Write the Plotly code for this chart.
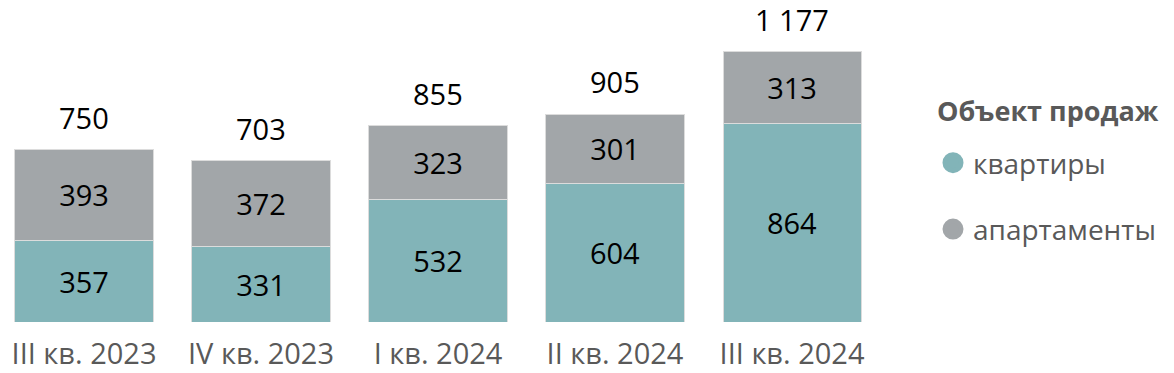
import plotly.graph_objects as go

categories = ["III кв. 2023", "IV кв. 2023", "I кв. 2024", "II кв. 2024", "III кв. 2024"]
flats = [357, 331, 532, 604, 864]
apartments = [393, 372, 323, 301, 313]
totals = [f + a for f, a in zip(flats, apartments)]
total_labels = [f"{t:,}".replace(",", " ") for t in totals]

TEAL = "#82B4B8"
GRAY = "#A2A6A9"
TXT = "#595959"
FONT = "Open Sans"
FS = 29
LFS = 28

x = list(range(len(categories)))
fig = go.Figure()
fig.add_trace(go.Bar(x=x, y=flats, marker=dict(color=TEAL, line=dict(color="#dcdcdc", width=1)),
                     text=[str(v) for v in flats], textposition="inside", insidetextanchor="middle",
                     textangle=0, textfont=dict(color="black", size=FS, family=FONT),
                     showlegend=False, width=0.78))
fig.add_trace(go.Bar(x=x, y=apartments, marker=dict(color=GRAY, line=dict(color="#dcdcdc", width=1)),
                     text=[str(v) for v in apartments], textposition="inside", insidetextanchor="middle",
                     textangle=0, textfont=dict(color="black", size=FS, family=FONT),
                     showlegend=False, width=0.78))

# legend entries
for name, col in [("квартиры", TEAL), ("апартаменты", GRAY)]:
    fig.add_trace(go.Scatter(x=[None], y=[None], mode="markers", name=name, legendgroup=name,
                             marker=dict(color=col, size=16, symbol="circle", line=dict(color=col, width=5))))

for i, lab in enumerate(total_labels):
    fig.add_annotation(x=i, y=totals[i], text=lab, showarrow=False, yanchor="bottom", yshift=11,
                       font=dict(color="black", size=FS, family=FONT))

fig.add_annotation(xref="paper", yref="paper", x=935 / 880, y=(322 - 110) / 322,
                   xanchor="left", yanchor="middle", showarrow=False,
                   text="<b>Объект продаж</b>", font=dict(size=27, color=TXT, family=FONT))

fig.update_layout(
    barmode="stack",
    width=1174, height=373,
    margin=dict(l=0, r=294, t=0, b=51, autoexpand=False),
    paper_bgcolor="white", plot_bgcolor="white",
    font=dict(family=FONT, color=TXT, size=FS),
    xaxis=dict(tickmode="array", tickvals=x, ticktext=categories, range=[-0.4746, 4.497],
               showgrid=False, zeroline=False, showline=False, ticks="", ticklabelstandoff=12,
               tickfont=dict(size=FS, color=TXT, family=FONT)),
    yaxis=dict(range=[0, 1403], visible=False),
    legend=dict(x=933 / 880, xanchor="left", y=(322 - 138) / 322, yanchor="top",
                font=dict(size=LFS, color=TXT, family=FONT), tracegroupgap=27, itemwidth=30),
    bargap=0.22,
)

fig.write_html("out.html", config={"displayModeBar": False},
               post_script="document.body.style.margin='0';")
